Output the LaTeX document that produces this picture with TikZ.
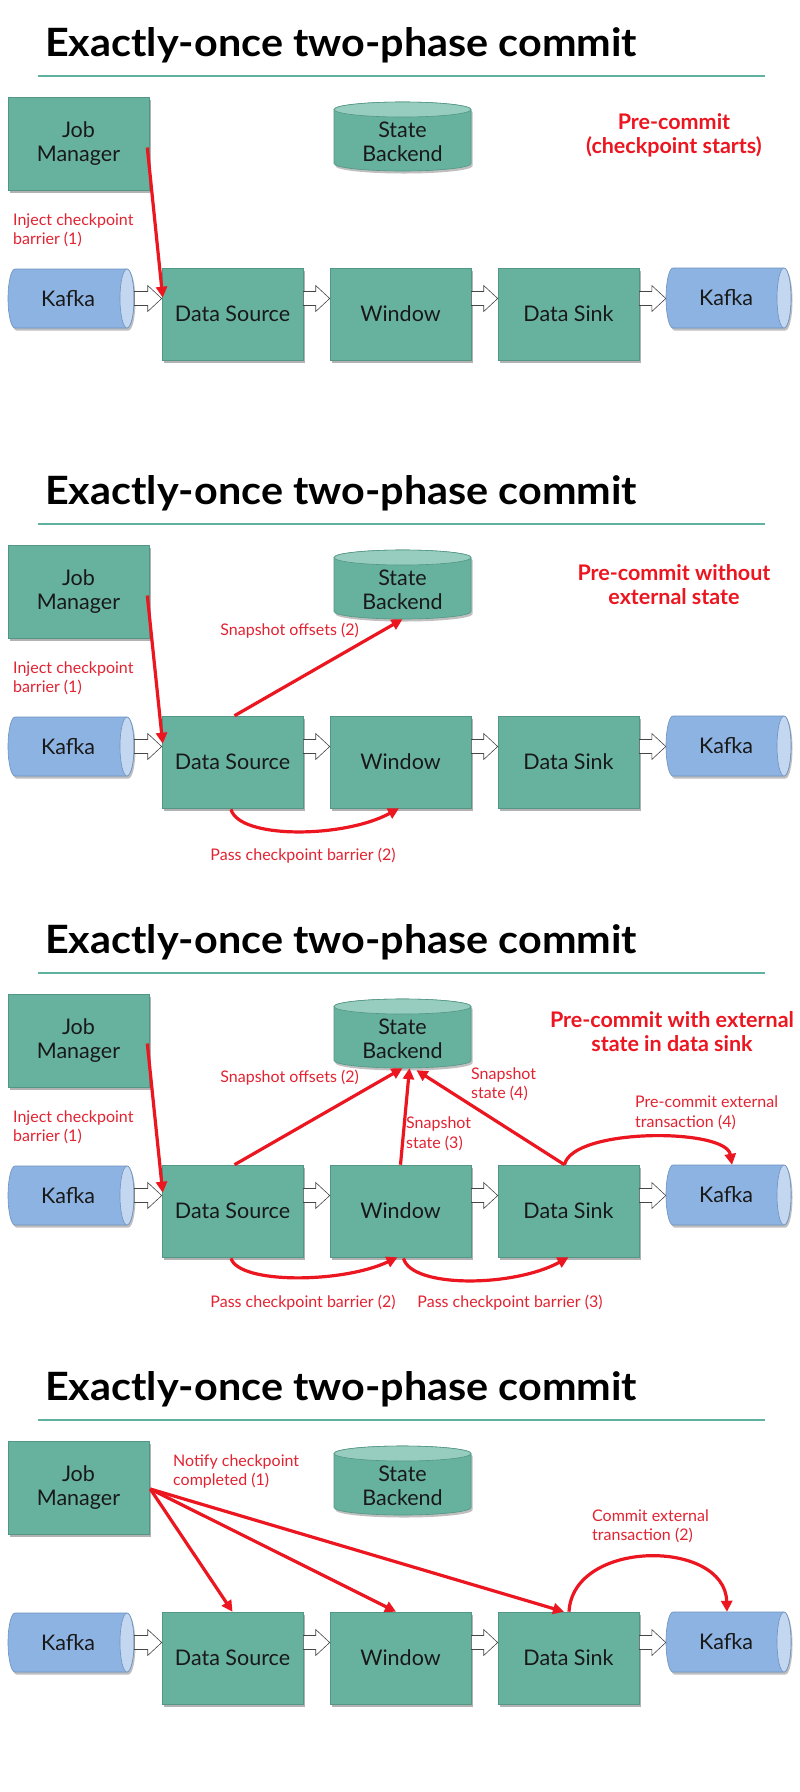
\documentclass[tikz,border=0pt]{standalone}
\usepackage{fontspec}
\setmainfont{Lato}
\newfontfamily\ttlfont[FakeStretch=1.06]{Lato}
\usetikzlibrary{arrows.meta,shadows,calc}
\definecolor{boxteal}{RGB}{102,178,158}
\definecolor{boxedge}{RGB}{84,150,133}
\definecolor{topteal}{RGB}{150,205,190}
\definecolor{kblue}{RGB}{141,179,226}
\definecolor{kend}{RGB}{196,215,240}
\definecolor{kedge}{RGB}{110,145,190}
\definecolor{linet}{RGB}{95,178,160}
\definecolor{arrred}{RGB}{236,22,32}
\definecolor{lblred}{RGB}{226,35,50}
\definecolor{txt}{RGB}{25,25,25}
\definecolor{blkedge}{RGB}{70,70,70}
\tikzset{
 ttl/.style={font=\ttlfont\fontsize{39}{44}\selectfont\bfseries, inner sep=0, text=black, anchor=base west},
 tealline/.style={draw=linet, line width=2.5pt},
 boxst/.style={rectangle, fill=boxteal, draw=boxedge, line width=.6pt, minimum width=141pt, minimum height=92pt, inner sep=0, font=\fontsize{21.5}{24}\selectfont, text=txt, align=center, drop shadow={shadow xshift=1.5pt, shadow yshift=-2.5pt, opacity=.3, fill=black}},
 ghost/.style={rectangle, draw=none, inner sep=0},
 bodyt/.style={font=\fontsize{21.5}{24}\selectfont, text=txt, align=center, inner sep=0},
 lbl/.style={font=\fontsize{16}{19.5}\selectfont, text=lblred, align=left, inner sep=0},
 blbl/.style={font=\fontsize{21.5}{24}\selectfont\bfseries, text=arrred, align=center, inner sep=0},
 redarr/.style={draw=arrred, line width=3.2pt, -{Triangle[length=11pt,width=11pt]}},
 blkarr/.style={fill=white, draw=blkedge, line width=.6pt, line join=miter},
}
\newcommand\hcyl[4]{%
 \pgfmathsetmacro\hyy{(#4-#2)/2}%
 \pgfmathsetmacro\cyy{(#2+#4)/2}%
 \fill[black,opacity=.25,shift={(1.5,2.5)}] (#3-7,#2) -- (#1+7,#2) arc[start angle=270,end angle=90,x radius=7,y radius=\hyy] -- (#3-7,#4) arc[start angle=90,end angle=-90,x radius=7,y radius=\hyy] -- cycle;
 \filldraw[fill=kblue,draw=kedge,line width=.6pt] (#3-7,#2) -- (#1+7,#2) arc[start angle=270,end angle=90,x radius=7,y radius=\hyy] -- (#3-7,#4) arc[start angle=90,end angle=-90,x radius=7,y radius=\hyy] -- cycle;
 \filldraw[fill=kend,draw=kedge,line width=.6pt] (#3-7,\cyy) ellipse[x radius=7,y radius=\hyy];
}
\newcommand\vcyl[4]{%
 \pgfmathsetmacro\rxx{(#3-#1)/2}%
 \pgfmathsetmacro\cxx{(#1+#3)/2}%
 \fill[black,opacity=.25,shift={(1.5,2.5)}] (#1,#2+7.5) -- (#1,#4-7.5) arc[start angle=180,end angle=0,x radius=\rxx,y radius=7.5] -- (#3,#2+7.5) arc[start angle=0,end angle=-180,x radius=\rxx,y radius=7.5] -- cycle;
 \filldraw[fill=boxteal,draw=boxedge,line width=.6pt] (#1,#2+7.5) -- (#1,#4-7.5) arc[start angle=180,end angle=0,x radius=\rxx,y radius=7.5] -- (#3,#2+7.5) arc[start angle=0,end angle=-180,x radius=\rxx,y radius=7.5] -- cycle;
 \filldraw[fill=topteal,draw=boxedge,line width=.6pt] (\cxx,#2+7.5) ellipse[x radius=\rxx,y radius=7.5];
}
\newcommand\blk[3]{%
 \draw[blkarr] let \p1=(#1.east), \p2=(#2.west), \p3=(#3.center) in
  (\x1,\y3+7pt) -- (\x2-14pt,\y3+7pt) -- (\x2-14pt,\y3+13pt) -- (\x2,\y3) -- (\x2-14pt,\y3-13pt) -- (\x2-14pt,\y3-7pt) -- (\x1,\y3-7pt) -- cycle;
}
\newcommand\basepanel[2]{%
 \begin{scope}[shift={(0,#2)}]
  \node[ttl] (t#1) at (45,56) {Exactly-once two-phase commit};
  \coordinate (la#1) at (38,76);
  \coordinate (lb#1) at (765,76);
  \draw[tealline] (la#1) -- (lb#1);
  \node[boxst, minimum height=93pt] (jm#1) at (78.5,143.5) {Job\\Manager};
  \vcyl{334}{102}{471}{171}
  \node[ghost, minimum width=137pt, minimum height=69pt] (sb#1) at (402.5,136.5) {};
  \node[bodyt] (sbl#1) at (402.5,142) {State\\Backend};
  \hcyl{8}{269}{134}{328}
  \node[ghost, minimum width=126pt, minimum height=59pt] (kin#1) at (71,298.5) {};
  \node[bodyt] (kinl#1) at (68,298.5) {Kafka};
  \node[boxst] (ds#1) at (232.5,314) {Data Source};
  \node[boxst] (win#1) at (400.5,314) {Window};
  \node[boxst] (sink#1) at (568.5,314) {Data Sink};
  \hcyl{666}{268}{791}{328}
  \node[ghost, minimum width=125pt, minimum height=60pt] (kout#1) at (728.5,298) {};
  \node[bodyt] (koutl#1) at (726,298) {Kafka};
 \end{scope}
 \blk{kin#1}{ds#1}{kin#1}
 \blk{ds#1}{win#1}{kin#1}
 \blk{win#1}{sink#1}{kin#1}
 \blk{sink#1}{kout#1}{kin#1}
}
\begin{document}
\begin{tikzpicture}[x=1pt,y=-1pt]
\fill[white] (0,0) rectangle (800,1792);
\useasboundingbox (0,0) rectangle (800,1792);

% ---------- Panel 1
\basepanel{1}{0}
\begin{scope}[shift={(0,0)}]
 \node[lbl, anchor=west] (inj1) at (13,230.5) {Inject checkpoint\\barrier (1)};
 \node[blbl] (pc1) at (674,135) {Pre-commit\\(checkpoint starts)};
\end{scope}
\draw[redarr] ($(jm1.east)+(-2,4)$) -- ($(ds1.north west)+(1,30)$);

% ---------- Panel 2
\basepanel{2}{448}
\begin{scope}[shift={(0,448)}]
 \node[lbl, anchor=west] (inj2) at (13,230.5) {Inject checkpoint\\barrier (1)};
 \node[blbl] (pc2) at (674,136.5) {Pre-commit without\\external state};
 \node[lbl, anchor=east] (sso2) at (359,183) {Snapshot offsets (2)};
 \node[lbl] (pass2) at (303,408) {Pass checkpoint barrier (2)};
\end{scope}
\draw[redarr] ($(jm2.east)+(-2,4)$) -- ($(ds2.north west)+(1,28)$);
\draw[redarr] ($(ds2.north)+(2,0)$) -- (sb2.south);
\draw[redarr] ($(ds2.south)+(-1.5,1)$) .. controls +(8,30) and +(-55,30) .. ($(win2.south)+(-1.5,0)$);

% ---------- Panel 3
\basepanel{3}{897}
\begin{scope}[shift={(0,897)}]
 \node[lbl, anchor=west] (inj3) at (13,230.5) {Inject checkpoint\\barrier (1)};
 \node[blbl] (pc3) at (672,134.5) {Pre-commit with external\\state in data sink};
 \node[lbl, anchor=east] (sso3) at (359,181) {Snapshot offsets (2)};
 \node[lbl, anchor=west] (ss43) at (471,187.5) {Snapshot\\state (4)};
 \node[lbl, anchor=west] (ss33) at (406,237) {Snapshot\\state (3)};
 \node[lbl, anchor=west] (pce3) at (635,216) {Pre-commit external\\transaction (4)};
 \node[lbl] (pass23) at (303,406) {Pass checkpoint barrier (2)};
 \node[lbl] (pass33) at (510,406) {Pass checkpoint barrier (3)};
\end{scope}
\draw[redarr] ($(jm3.east)+(-2,3)$) -- ($(ds3.north west)+(1,28)$);
\draw[redarr] ($(ds3.north)+(2,0)$) -- (sb3.south);
\draw[redarr] (win3.north) -- ($(sb3.south)+(7,0)$);
\draw[redarr] ($(sink3.north)+(-4,0)$) -- ($(sb3.south)+(14,2)$);
\draw[redarr] ($(sink3.north)+(-4,0)$) .. controls +(8,-37) and +(-6,-37) .. ($(kout3.north)+(3.5,0)$);
\draw[redarr] ($(ds3.south)+(-1.5,1)$) .. controls +(8,26) and +(-55,26) .. ($(win3.south)+(-3,0)$);
\draw[redarr] ($(win3.south)+(3,1)$) .. controls +(8,30) and +(-55,30) .. (sink3.south);

% ---------- Panel 4
\basepanel{4}{1344}
\begin{scope}[shift={(0,1344)}]
 \node[lbl, anchor=west] (ntf4) at (173,127.5) {Notify checkpoint\\completed (1)};
 \node[lbl, anchor=west] (cmt4) at (592,182.5) {Commit external\\transaction (2)};
\end{scope}
\coordinate (jmo4) at ($(jm4.east)+(1,1.5)$);
\draw[redarr] (jmo4) -- (ds4.north);
\draw[redarr] (jmo4) -- ($(win4.north)+(-4.5,0)$);
\draw[redarr] (jmo4) -- ($(sink4.north)+(-4.5,0)$);
\draw[redarr] ($(sink4.north)+(0.5,0)$) .. controls +(4,-73) and +(-2,-73) .. ($(kout4.north)+(-1.5,0)$);
\end{tikzpicture}
\end{document}
